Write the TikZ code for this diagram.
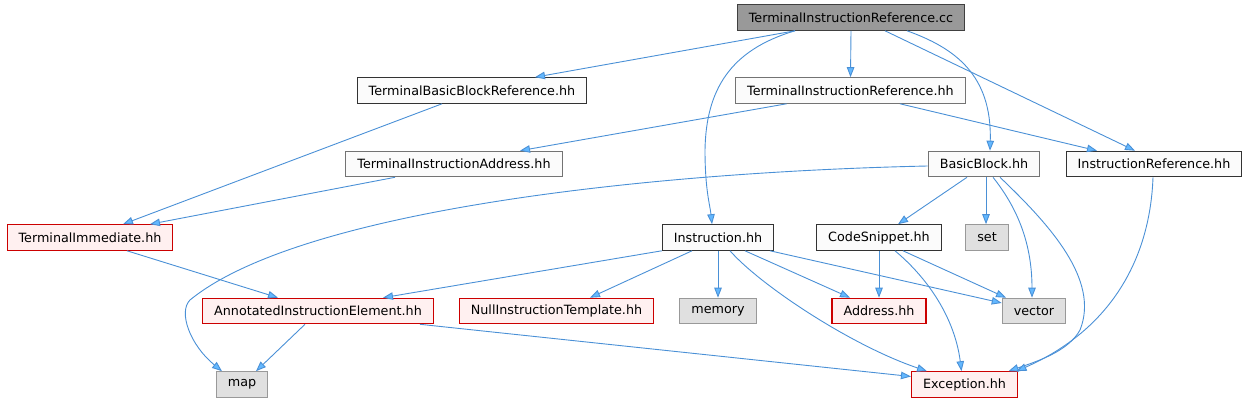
\documentclass[tikz,border=0pt]{standalone}
\usepackage{fontspec}
\setmainfont{DejaVu Sans}
\usetikzlibrary{arrows.meta}
\definecolor{edgeblue}{RGB}{74,144,214}
\definecolor{tipblue}{RGB}{99,184,255}
\definecolor{rootgrey}{RGB}{153,153,153}
\definecolor{sysgrey}{RGB}{224,224,224}
\definecolor{missfill}{RGB}{255,240,240}

\begin{document}
\begin{tikzpicture}[x=1pt,y=-1pt,
    >={Triangle[length=10pt,width=7.5pt,fill=tipblue]},
    file/.style={draw,line width=1.1pt,fill=white!97!gray,
      font=\fontsize{12.75}{15}\selectfont,
      inner xsep=11.5pt,inner ysep=0pt,minimum height=25.5pt},
    root/.style={file,fill=rootgrey,draw=black!75},
    dark/.style={file,draw=black!80},
    grey/.style={file,draw=black!55},
    broken/.style={file,fill=missfill,draw=red!80!black},
    sys/.style={file,fill=sysgrey,draw=black!40},
    dep/.style={->,draw=edgeblue,line width=0.9pt}]
  \useasboundingbox (0,0) rectangle (1248,403);

  % files, row by row
  \node[root] (cc) at (851,17.5) {TerminalInstructionReference.cc};
  \node[dark] (tbbr) at (472,90.5) {TerminalBasicBlockReference.hh};
  \node[grey] (tirhh) at (850.5,90.5) {TerminalInstructionReference.hh};
  \node[grey] (tia) at (454,164) {TerminalInstructionAddress.hh};
  \node[grey] (bb) at (984,164) {BasicBlock.hh};
  \node[dark] (iref) at (1154,164) {InstructionReference.hh};
  \node[broken] (timm) at (90,237.5) {TerminalImmediate.hh};
  \node[dark] (instr) at (718,237.5) {Instruction.hh};
  \node[dark] (csnip) at (879,237.5) {CodeSnippet.hh};
  \node[sys] (stdset) at (987,237.5) {set};
  \node[broken] (aie) at (318,311) {AnnotatedInstructionElement.hh};
  \node[broken] (nit) at (556.5,311) {NullInstructionTemplate.hh};
  \node[sys] (stdmem) at (718,311) {memory};
  \node[broken] (addr) at (879,311) {Address.hh};
  \node[sys] (stdvec) at (1034,311) {vector};
  \node[sys] (stdmap) at (242,384.5) {map};
  \node[broken] (exc) at (964.5,384.5) {Exception.hh};

  % includes of the .cc file
  \draw[dep] ([xshift=-56]cc.south) -- ([xshift=63]tbbr.north);
  \draw[dep] (cc.south) -- (tirhh.north);
  \draw[dep] ([xshift=-56]cc.south) .. controls (730,50) and (706,90) .. (705,150)
    .. controls (705,190) and (710,205) .. ([xshift=-6]instr.north);
  \draw[dep] ([xshift=56]cc.south) .. controls (955,48) and (992,75) .. ([xshift=6]bb.north);
  \draw[dep] ([xshift=34]cc.south) -- ([xshift=-19]iref.north);

  % second level
  \draw[dep] ([xshift=-30]tbbr.south) -- ([xshift=33]timm.north);
  \draw[dep] ([xshift=-64]tirhh.south) -- ([xshift=66]tia.north);
  \draw[dep] ([xshift=49.5]tirhh.south) -- ([xshift=-57]iref.north);
  \draw[dep] ([xshift=-59]tia.south) -- ([xshift=60]timm.north);

  % BasicBlock.hh and InstructionReference.hh
  \draw[dep] ([yshift=-2]bb.west) .. controls (650,172) and (300,210) .. (190,300)
    .. controls (178,312) and (190,345) .. ([xshift=-20]stdmap.north);
  \draw[dep] ([xshift=-17]bb.south) -- ([xshift=19]csnip.north);
  \draw[dep] ([xshift=2]bb.south) -- ([xshift=-1]stdset.north);
  \draw[dep] ([xshift=9]bb.south) .. controls (1015,205) and (1032,240) .. ([xshift=-2]stdvec.north);
  \draw[dep] ([xshift=16]bb.south) .. controls (1050,225) and (1100,280) .. (1080,330)
    .. controls (1068,352) and (1035,362) .. ([xshift=44]exc.north);
  \draw[dep] ([xshift=-1]iref.south) .. controls (1150,260) and (1110,330) .. ([xshift=52]exc.north);

  % Instruction.hh, CodeSnippet.hh, TerminalImmediate.hh
  \draw[dep] ([xshift=37]timm.south) -- ([xshift=-40]aie.north);
  \draw[dep] (instr.south west) -- ([xshift=65]aie.north);
  \draw[dep] ([xshift=-26]instr.south) -- ([xshift=33.5]nit.north);
  \draw[dep] (instr.south) -- (stdmem.north);
  \draw[dep] ([xshift=27]instr.south) -- ([xshift=-29]addr.north);
  \draw[dep] ([xshift=52]instr.south) -- ([yshift=8]stdvec.west);
  \draw[dep] ([xshift=12]instr.south) .. controls (760,285) and (850,345) .. ([xshift=-37.5]exc.north);
  \draw[dep] (csnip.south) -- (addr.north);
  \draw[dep] ([xshift=24]csnip.south) -- ([xshift=-28]stdvec.north);
  \draw[dep] ([xshift=16]csnip.south) .. controls (930,280) and (955,320) .. ([xshift=-3]exc.north);

  % bottom row
  \draw[dep] ([xshift=-13]aie.south) -- ([xshift=14]stdmap.north);
  \draw[dep] ([xshift=102]aie.south) -- ([yshift=8]exc.west);
\end{tikzpicture}
\end{document}
